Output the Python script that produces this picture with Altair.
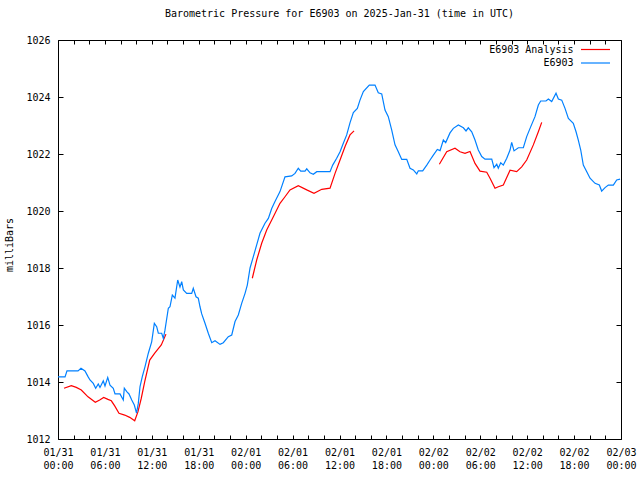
import json
import altair as alt
import pandas as pd

TITLE = "Barometric Pressure for E6903 on 2025-Jan-31 (time in UTC)"
Y_TITLE = "milliBars"
SERIES = ["E6903 Analysis", "E6903"]
COLORS = ["#ff0000", "#0080ff"]
FONT = "DejaVu Sans Mono"

# x axis: hours after 2025-01-31 00:00 UTC
X_TICK_LABELS = [
    ["01/31", "00:00"], ["01/31", "06:00"], ["01/31", "12:00"], ["01/31", "18:00"],
    ["02/01", "00:00"], ["02/01", "06:00"], ["02/01", "12:00"], ["02/01", "18:00"],
    ["02/02", "00:00"], ["02/02", "06:00"], ["02/02", "12:00"], ["02/02", "18:00"],
    ["02/03", "00:00"],
]
Y_TICKS = [1012, 1014, 1016, 1018, 1020, 1022, 1024, 1026]

# E6903 observations
BLUE_H = [0.00, 0.90, 1.15, 2.56, 2.94, 3.45, 3.84, 4.09, 4.51, 4.82,
          5.15, 5.37, 5.79, 6.01, 6.36, 6.65, 7.07, 7.29, 7.93, 8.35,
          8.48, 8.79, 9.08, 9.43, 9.76, 10.04, 10.27, 10.49, 10.78, 11.13,
          11.55, 11.98, 12.32, 12.62, 12.83, 13.26, 13.47, 13.68, 14.11, 14.32,
          14.62, 14.96, 15.31, 15.60, 15.82, 16.03, 16.46, 17.10, 17.30, 17.65,
          17.94, 18.16, 18.38, 18.80, 19.22, 19.66, 20.08, 20.72, 21.14, 21.78,
          22.22, 22.64, 23.06, 23.49, 23.92, 24.21, 24.56, 24.98, 25.41, 25.83,
          26.47, 26.90, 27.33, 27.75, 28.39, 29.03, 29.89, 30.31, 30.73, 31.04,
          31.59, 31.81, 32.23, 32.65, 33.09, 34.79, 35.13, 35.64, 36.07, 36.49,
          36.92, 37.34, 37.77, 38.28, 38.62, 39.05, 39.81, 40.54, 40.96, 41.40,
          41.82, 42.24, 42.68, 43.10, 43.52, 43.96, 44.60, 45.02, 45.44, 45.88,
          46.08, 46.64, 47.16, 47.58, 48.00, 48.51, 48.86, 49.28, 49.58, 50.13,
          50.56, 51.20, 51.84, 52.18, 52.47, 52.91, 53.33, 53.75, 54.19, 54.61,
          55.47, 55.76, 56.11, 56.31, 56.62, 56.95, 57.39, 57.81, 58.02, 58.32,
          58.87, 59.51, 59.94, 60.46, 61.00, 61.43, 61.73, 62.41, 62.71, 63.14,
          63.69, 63.99, 64.42, 64.84, 65.27, 65.90, 66.25, 66.54, 66.85, 67.18,
          67.62, 68.04, 68.68, 69.23, 69.53, 69.96, 70.38, 71.02, 71.45, 71.88]
BLUE_P = [1014.18, 1014.18, 1014.39, 1014.39, 1014.48, 1014.39, 1014.19, 1014.07, 1013.95, 1013.78,
          1013.93, 1013.81, 1014.04, 1013.86, 1014.16, 1013.89, 1013.78, 1013.58, 1013.58, 1013.37,
          1013.78, 1013.66, 1013.58, 1013.37, 1013.19, 1012.91, 1013.25, 1013.84, 1014.19, 1014.54,
          1015.01, 1015.41, 1016.06, 1015.94, 1015.71, 1015.71, 1015.53, 1015.82, 1016.59, 1016.64,
          1017.05, 1016.94, 1017.58, 1017.33, 1017.52, 1017.23, 1017.11, 1017.11, 1017.29, 1016.99,
          1016.94, 1016.64, 1016.39, 1016.06, 1015.71, 1015.38, 1015.45, 1015.32, 1015.38, 1015.59,
          1015.65, 1016.12, 1016.35, 1016.76, 1017.11, 1017.40, 1018.00, 1018.40, 1018.81, 1019.22,
          1019.57, 1019.74, 1020.09, 1020.33, 1020.68, 1021.20, 1021.23, 1021.32, 1021.50, 1021.40,
          1021.40, 1021.48, 1021.34, 1021.29, 1021.38, 1021.38, 1021.61, 1021.85, 1022.08, 1022.38,
          1022.67, 1023.09, 1023.45, 1023.60, 1023.89, 1024.19, 1024.42, 1024.42, 1024.15, 1024.11,
          1023.54, 1023.31, 1022.84, 1022.32, 1022.08, 1021.81, 1021.81, 1021.50, 1021.44, 1021.30,
          1021.41, 1021.41, 1021.61, 1021.79, 1021.96, 1022.16, 1022.12, 1022.49, 1022.40, 1022.74,
          1022.90, 1023.02, 1022.92, 1022.81, 1022.92, 1022.78, 1022.49, 1022.14, 1021.91, 1021.82,
          1021.82, 1021.52, 1021.64, 1021.50, 1021.69, 1021.61, 1021.85, 1022.14, 1022.41, 1022.11,
          1022.22, 1022.22, 1022.61, 1022.96, 1023.31, 1023.72, 1023.86, 1023.86, 1023.93, 1023.84,
          1024.13, 1023.93, 1023.89, 1023.60, 1023.25, 1023.08, 1022.78, 1022.49, 1022.14, 1021.61,
          1021.38, 1021.15, 1020.97, 1020.91, 1020.70, 1020.82, 1020.91, 1020.91, 1021.09, 1021.12]

# E6903 Analysis (three separate runs)
RED_H = [0.77, 1.70, 2.34, 2.98, 3.84, 4.77, 5.33, 5.84, 6.39, 6.82, 7.25,
         7.80, 8.53, 9.17, 9.81, 10.23, 10.65, 11.09, 11.73, 12.37, 13.21, 13.81,
         24.85, 25.41, 26.05, 26.69, 27.54, 28.39, 29.03, 29.67, 30.73,
         31.81, 32.74, 33.73, 34.79, 35.43, 36.07, 36.71, 37.34, 37.86,
         48.77, 49.71, 50.77, 51.41, 52.05, 52.69, 53.33, 53.97, 54.83, 55.25,
         55.89, 56.31, 56.95, 57.81, 58.66, 59.30, 59.94, 60.79, 61.43, 61.86]
RED_P = [1013.78, 1013.87, 1013.81, 1013.72, 1013.48, 1013.29, 1013.37, 1013.46, 1013.39, 1013.34, 1013.16,
         1012.90, 1012.84, 1012.76, 1012.64, 1012.96, 1013.43, 1014.01, 1014.77, 1015.01, 1015.30, 1015.68,
         1017.64, 1018.28, 1018.87, 1019.33, 1019.80, 1020.27, 1020.50, 1020.74, 1020.89,
         1020.74, 1020.62, 1020.76, 1020.80, 1021.32, 1021.79, 1022.26, 1022.67, 1022.81,
         1021.64, 1022.08, 1022.20, 1022.08, 1022.02, 1022.09, 1021.67, 1021.40, 1021.36, 1021.15,
         1020.80, 1020.85, 1020.91, 1021.43, 1021.38, 1021.55, 1021.79, 1022.32, 1022.78, 1023.11]
RED_RUN = [1] * 22 + [2] * 18 + [3] * 20

blue = pd.DataFrame({"hours": BLUE_H, "pressure": BLUE_P})
red = pd.DataFrame({"hours": RED_H, "pressure": RED_P, "run": RED_RUN})

x_scale = alt.Scale(domain=[0, 72], nice=False, zero=False)
y_scale = alt.Scale(domain=[1012, 1026], nice=False, zero=False)
x_ticks = list(range(0, 73, 2))
label_expr = "datum.value % 6 == 0 ? " + json.dumps(X_TICK_LABELS) + "[round(datum.value / 6)] : ''"

common = dict(domain=False, grid=False, title=None, tickColor="black", labelColor="black",
              labelFont=FONT, labelFontSize=10, tickWidth=1)

x_bottom = alt.Axis(orient="bottom", values=x_ticks, labelExpr=label_expr, tickSize=4, offset=-4,
                    labelPadding=8, labelLineHeight=13, labelAngle=0, labelOverlap=False,
                    labelFlush=False, labelBound=False, **common)
x_top = alt.Axis(orient="top", values=x_ticks, labels=False, tickSize=4, offset=-4, **common)
y_left = alt.Axis(orient="left", values=Y_TICKS, format="d", tickSize=5, offset=-5,
                  labelPadding=8, labelOverlap=False, labelFlush=False, **common)
y_right = alt.Axis(orient="right", values=Y_TICKS, labels=False, tickSize=5, offset=-5, **common)

LW = 1.2

red_line = alt.Chart(red).mark_line(color=COLORS[0], strokeWidth=LW).encode(
    x=alt.X("hours:Q", scale=x_scale, axis=x_top),
    y=alt.Y("pressure:Q", scale=y_scale, axis=y_right),
    detail="run:N",
)
blue_line = alt.Chart(blue).mark_line(color=COLORS[1], strokeWidth=LW).encode(
    x=alt.X("hours:Q", scale=x_scale, axis=x_bottom),
    y=alt.Y("pressure:Q", scale=y_scale, axis=y_left),
)

one = alt.Data(values=[{}])
leg_layers = []
for i, (name, col) in enumerate(zip(SERIES, COLORS)):
    yy = 9.5 + i * 13.5
    leg_layers.append(
        alt.Chart(one).mark_text(align="right", baseline="middle", font=FONT, fontSize=10, color="black").encode(
            x=alt.value(515.5), y=alt.value(yy), text=alt.value(name))
    )
    leg_layers.append(
        alt.Chart(one).mark_rule(color=col, stroke=col, strokeWidth=LW).encode(
            x=alt.value(523), x2=alt.value(552), y=alt.value(yy))
    )

ytitle = alt.Chart(one).mark_text(angle=270, align="center", baseline="middle", font=FONT,
                                  fontSize=10, color="black").encode(
    x=alt.value(-48), y=alt.value(205), text=alt.value(Y_TITLE))

chart = alt.layer(red_line, blue_line, *leg_layers, ytitle).resolve_axis(
    x="independent", y="independent"
).properties(
    width=563, height=399,
    title=alt.TitleParams(TITLE, font=FONT, fontSize=10, fontWeight="normal", anchor="middle",
                          offset=16, color="black"),
    autosize=alt.AutoSizeParams(type="none"),
    padding={"left": 58, "top": 40, "right": 19, "bottom": 41},
).configure_view(stroke="black", strokeWidth=1)

chart.save("out.html", embed_options={"renderer": "svg", "actions": False})
